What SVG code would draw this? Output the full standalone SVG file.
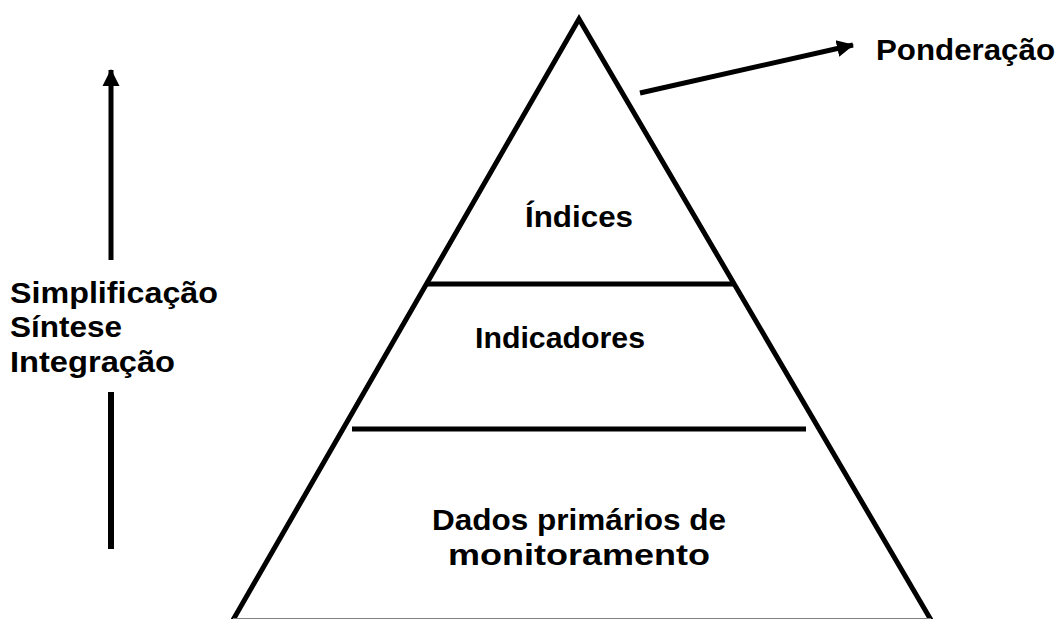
<svg xmlns="http://www.w3.org/2000/svg" width="1061" height="619" viewBox="0 0 1061 619">
<style>
.t{font-family:"Liberation Sans",Arial,sans-serif;font-weight:bold;font-size:30px;fill:#000}
.ln{stroke:#000;stroke-width:5;fill:none}
</style>
<defs>
<marker id="ah" markerWidth="4" markerHeight="4" refX="3.2" refY="2" orient="auto" markerUnits="strokeWidth" viewBox="0 0 4 4">
<path d="M0,0.3 L3.4,2 L0,3.7 Z" fill="#000"/>
</marker>
</defs>
<rect width="1061" height="619" fill="#fff"/>
<g id="pyramid">
<path class="ln" d="M233,620 L579,19 L931,620"/>
<line x1="233" y1="618.5" x2="931" y2="618.5" stroke="#808080" stroke-width="1"/>
</g>
<g id="level-indices">
<text class="t" x="525" y="227" textLength="108" lengthAdjust="spacingAndGlyphs">Índices</text>
</g>
<g id="level-indicadores">
<line class="ln" x1="425" y1="284" x2="734" y2="284"/>
<text class="t" x="475" y="348" textLength="170" lengthAdjust="spacingAndGlyphs">Indicadores</text>
</g>
<g id="level-dados">
<line class="ln" x1="352" y1="429" x2="806" y2="429"/>
<text class="t" x="432" y="530" textLength="294" lengthAdjust="spacingAndGlyphs">Dados primários de</text>
<text class="t" x="448" y="565" textLength="262" lengthAdjust="spacingAndGlyphs">monitoramento</text>
</g>
<g id="label-ponderacao">
<text class="t" x="876" y="60" textLength="179" lengthAdjust="spacingAndGlyphs">Ponderação</text>
</g>
<g id="label-left">
<text class="t" x="10" y="303" textLength="208" lengthAdjust="spacingAndGlyphs">Simplificação</text>
<text class="t" x="10" y="337" textLength="112" lengthAdjust="spacingAndGlyphs">Síntese</text>
<text class="t" x="10" y="372" textLength="165" lengthAdjust="spacingAndGlyphs">Integração</text>
</g>
<g id="connectors">
<line x1="640" y1="93" x2="853" y2="45" stroke="#000" stroke-width="5" marker-end="url(#ah)"/>
<line x1="111" y1="260" x2="111" y2="70" stroke="#000" stroke-width="5" marker-end="url(#ah)"/>
<line x1="111" y1="392" x2="111" y2="549" stroke="#000" stroke-width="6"/>
</g>
</svg>
